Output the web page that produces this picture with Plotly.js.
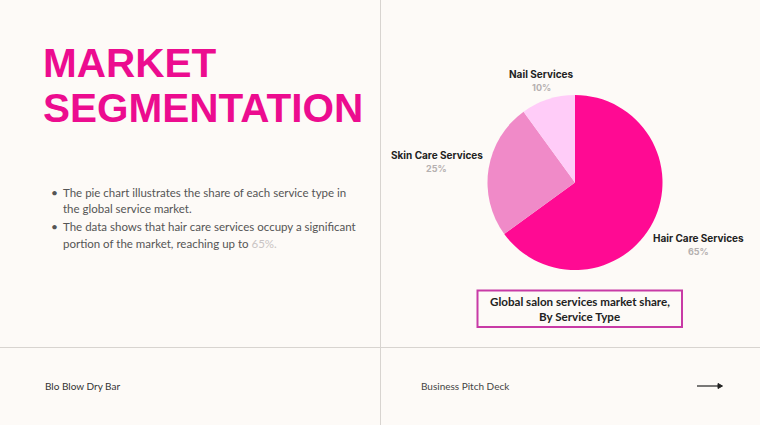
<!DOCTYPE html>
<html>
<head>
<meta charset="utf-8">
<script src="https://cdn.plot.ly/plotly-3.0.1.min.js"></script>
<style>
html,body{margin:0;padding:0;background:#fdfaf7;}
#chart{width:760px;height:425px;}
</style>
</head>
<body>
<div id="chart"></div>
<script>
const categories = ["Hair Care Services", "Skin Care Services", "Nail Services"];
const shares = [65, 25, 10];
const sliceColors = ["#ff0a93", "#f08ac8", "#ffccf8"];
const chartTitleLines = ["Global salon services market share,", "By Service Type"];
const headlineLines = ["MARKET", "SEGMENTATION"];
const bulletLines = [
  ["The pie chart illustrates the share of each service type in", "the global service market."],
  ["The data shows that hair care services occupy a significant", "portion of the market, reaching up to "]
];
const footerLeft = "Blo Blow Dry Bar";
const footerMid = "Business Pitch Deck";

const W = 760, H = 425;
const px = x => x / W;
const py = y => 1 - y / H;

const labelPos = [
  {x: 698, y: 238},
  {x: 437, y: 155},
  {x: 541, y: 74}
];

const annotations = [];
function txt(x, y, text, font, xanchor, align) {
  annotations.push({
    xref: 'paper', yref: 'paper', x: px(x), y: py(y), xanchor: xanchor || 'left', yanchor: 'middle',
    text: text, showarrow: false, align: align || 'left', font: font
  });
}
const headFont = {family: 'Liberation Sans, Arial, sans-serif', size: 40.5, color: '#ec0c8f'};
txt(41, 63, '<b>' + headlineLines[0] + '</b>', headFont);
txt(41, 108, '<b>' + headlineLines[1] + '</b>', headFont);

const bodyFont = {family: 'Lato, sans-serif', size: 11.5, color: '#555555'};
const lineY = [192, 209, 226, 243];
let k = 0;
bulletLines.forEach((lines, i) => {
  lines.forEach((l, j) => {
    let t = l;
    if (i === 1 && j === 1) t += '<span style="color:#c9c4c4">' + shares[0] + '%.</span>';
    if (j === 0) txt(49, lineY[k], '•', {family: 'Lato, sans-serif', size: 12, color: '#555555'});
    txt(61, lineY[k], t, bodyFont);
    k++;
  });
});

categories.forEach((c, i) => {
  txt(labelPos[i].x, labelPos[i].y, '<b>' + c + '</b>', {family: 'Inter, sans-serif', size: 10, color: '#222222'}, 'center', 'center');
  txt(labelPos[i].x, labelPos[i].y + 13, '<b>' + shares[i] + '%</b>', {family: 'Inter, sans-serif', size: 9, color: '#b5b0b0'}, 'center', 'center');
});

const ctFont = {family: 'Lato, sans-serif', size: 11.6, color: '#222222'};
txt(579.5, 301, '<b>' + chartTitleLines[0] + '</b>', ctFont, 'center', 'center');
txt(579.5, 316.5, '<b>' + chartTitleLines[1] + '</b>', ctFont, 'center', 'center');

txt(43, 386, footerLeft, {family: 'Lato, sans-serif', size: 10, color: '#333333'});
txt(419, 386, footerMid, {family: 'Lato, sans-serif', size: 10, color: '#444444'});

const shapes = [
  {type: 'line', xref: 'paper', yref: 'paper', x0: px(380.5), x1: px(380.5), y0: 0, y1: 1, line: {color: '#d8d4d0', width: 1}},
  {type: 'line', xref: 'paper', yref: 'paper', x0: 0, x1: 1, y0: py(347.5), y1: py(347.5), line: {color: '#d8d4d0', width: 1}},
  {type: 'rect', xref: 'paper', yref: 'paper', x0: px(477.5), x1: px(682), y0: py(290.5), y1: py(327), line: {color: '#c83aa6', width: 2}, fillcolor: 'rgba(0,0,0,0)'},
  {type: 'line', xref: 'paper', yref: 'paper', x0: px(697), x1: px(720), y0: py(386), y1: py(386), line: {color: '#222222', width: 1.2}},
  {type: 'path', xref: 'paper', yref: 'paper',
   path: 'M ' + px(718) + ' ' + py(383.5) + ' L ' + px(722.5) + ' ' + py(386) + ' L ' + px(718) + ' ' + py(388.5) + ' Z',
   fillcolor: '#222222', line: {color: '#222222', width: 1}}
];

const data = [{
  type: 'pie',
  labels: categories,
  values: shares,
  marker: {colors: sliceColors, line: {width: 0}},
  sort: false,
  direction: 'clockwise',
  rotation: 0,
  textinfo: 'none',
  hoverinfo: 'label+percent',
  domain: {x: [px(487), px(663)], y: [py(270), py(95)]},
  showlegend: false
}];

const layout = {
  width: W, height: H,
  margin: {l: 0, r: 0, t: 0, b: 0},
  paper_bgcolor: '#fdfaf7',
  plot_bgcolor: '#fdfaf7',
  showlegend: false,
  annotations: annotations,
  shapes: shapes
};

Plotly.newPlot('chart', data, layout, {displayModeBar: false, staticPlot: true});
</script>
</body>
</html>
